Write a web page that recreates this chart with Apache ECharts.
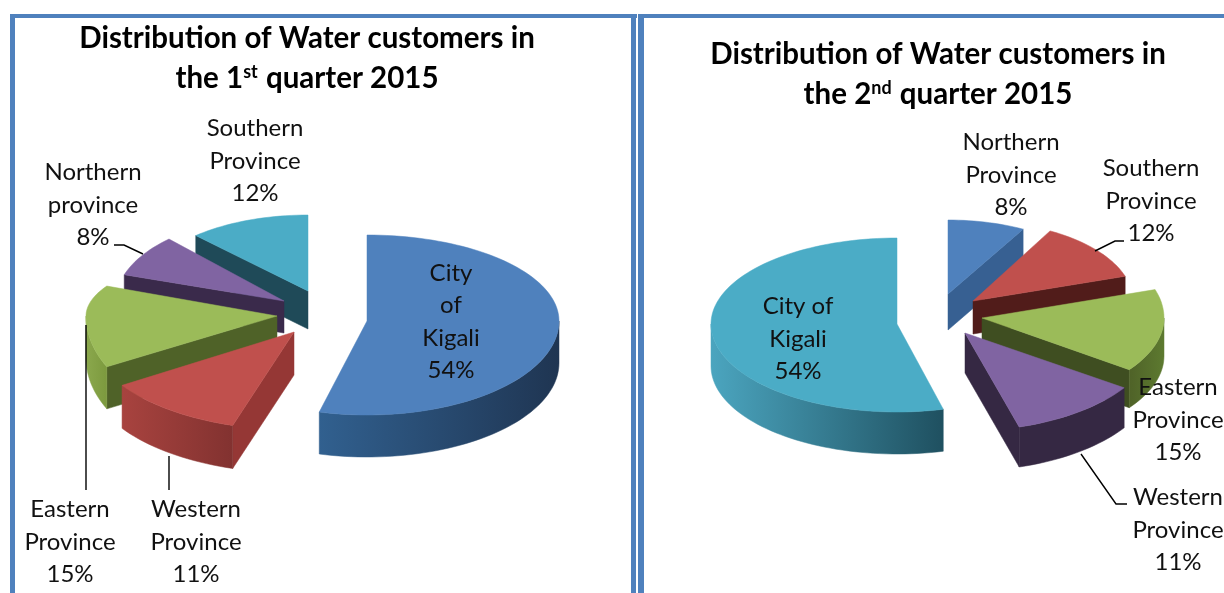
<!DOCTYPE html>
<html>
<head>
<meta charset="utf-8">
<style>
  html, body { margin: 0; padding: 0; background: #fff; }
  #chart { width: 1224px; height: 593px; }
</style>
</head>
<body>
<div id="chart"></div>
<script src="https://cdn.jsdelivr.net/npm/echarts@6/dist/echarts.min.js"></script>
<script>
// values, clockwise from 12 o'clock
const namesQ1 = ['City\nof\nKigali', 'Western\nProvince', 'Eastern\nProvince', 'Northern\nprovince', 'Southern\nProvince'];
const valuesQ1 = [54, 11, 15, 8, 12];
const namesQ2 = ['Northern\nProvince', 'Southern\nProvince', 'Eastern\nProvince', 'Western\nProvince', 'City of\nKigali'];
const valuesQ2 = [8, 12, 15, 11, 54];

const FONT = 'Lato';
const BLUE = '#4F81BD';

// slice geometry: [apex x, apex y, rx, ry back, ry front, depth, view turn in degrees]
const sliceBoxQ1 = [
  [367, 321, 192, 86, 94, 42, 0],
  [294, 332, 205, 95, 98, 43, 3],
  [277, 316, 191, 66, 112, 42, 9],
  [284, 301, 168, 85, 85, 32, 0],
  [308, 291, 164, 76, 76, 38, 0]
];
const sliceBoxQ2 = [
  [948, 294, 156, 74, 74, 36, 0],
  [973, 301, 160, 80, 80, 33, 0],
  [982, 318, 182, 92, 88, 38, 0],
  [965, 333, 192, 90, 98, 40, -2],
  [897, 324, 186, 86, 88, 42, 0]
];
// back to front
const drawOrderQ1 = [4, 3, 2, 1, 0];
const drawOrderQ2 = [0, 1, 2, 3, 4];

// top colour, cut face colour, arc wall gradient
const stylesQ1 = [
  ['#4F81BD', '#2A4A70', ['#31608F', '#1F3552']],
  ['#C0504D', '#953735', ['#A8433F', '#823230']],
  ['#9BBB59', '#4F6228', ['#8BA84D', '#7C9A3E']],
  ['#8064A2', '#3A2A4B', ['#3A2A4B', '#3A2A4B']],
  ['#4BACC6', '#1F4A58', ['#1F4A58', '#1F4A58']]
];
const stylesQ2 = [
  ['#4F81BD', '#376092', ['#376092', '#376092']],
  ['#C0504D', '#511C1A', ['#511C1A', '#511C1A']],
  ['#9BBB59', '#3F4E21', ['#4F6228', '#5D7A30']],
  ['#8064A2', '#352843', ['#352843', '#352843']],
  ['#4BACC6', '#1F4A58', ['#4BA5BF', '#1F5060']]
];

// label centres
const labelPosQ1 = [[451, 322], [196, 542], [70, 542], [93, 205], [255, 161]];
const labelPosQ2 = [[1011, 175], [1151, 201], [1178, 420], [1178, 530], [798, 339]];
const leadersQ1 = [
  [[114, 245], [124, 245], [143, 254]],
  [[86, 325], [86, 490]],
  [[169, 456], [169, 490]]
];
const leadersQ2 = [
  [[1124, 241], [1115, 241], [1095, 251]],
  [[1081, 454], [1116, 504], [1127, 504]]
];

function sliceAngles(values) {
  const total = values.reduce((a, b) => a + b, 0);
  let acc = 0;
  return values.map(v => {
    const from = acc / total * 360;
    acc += v;
    return [from, acc / total * 360];
  });
}

function pointAt(box, deg) {
  const r = deg * Math.PI / 180;
  const c = Math.cos(r);
  return [box[0] + box[2] * Math.sin(r), box[1] - (c > 0 ? box[3] : box[4]) * c];
}

function arcPoints(box, from, to) {
  const pts = [];
  const steps = Math.max(2, Math.ceil((to - from) / 2));
  for (let i = 0; i <= steps; i++) pts.push(pointAt(box, from + (to - from) * i / steps));
  return pts;
}

function poly(points, fill) {
  return { type: 'polygon', shape: { points: points }, style: { fill: fill, stroke: fill, lineWidth: 0.5 } };
}

function cutFace(box, deg, fill) {
  const o = pointAt(box, deg);
  const d = box[5];
  return poly([[box[0], box[1]], o, [o[0], o[1] + d], [box[0], box[1] + d]], fill);
}

function pieSeries(values, boxes, styles, order) {
  const angles = sliceAngles(values);
  return {
    type: 'custom',
    coordinateSystem: 'none',
    silent: true,
    z: 2,
    data: order.map(i => [values[i], i]),
    renderItem: function (params, api) {
      const i = api.value(1);
      const box = boxes[i], st = styles[i];
      const from = angles[i][0] + box[6], to = angles[i][1] + box[6];
      const children = [];
      // a cut face only shows when it turns towards the viewer
      if (Math.sin(from * Math.PI / 180) < -0.001) children.push(cutFace(box, from, st[1]));
      if (Math.sin(to * Math.PI / 180) > 0.001) children.push(cutFace(box, to, st[1]));
      const a = Math.max(from, 90), b = Math.min(to, 270);
      if (b > a) {
        const upper = arcPoints(box, a, b);
        const lower = upper.map(p => [p[0], p[1] + box[5]]).reverse();
        children.push(poly(upper.concat(lower), new echarts.graphic.LinearGradient(0, 0, 1, 0, [
          { offset: 0, color: st[2][0] },
          { offset: 1, color: st[2][1] }
        ])));
      }
      children.push(poly([[box[0], box[1]]].concat(arcPoints(box, from, to)), st[0]));
      return { type: 'group', children: children };
    }
  };
}

function labelSeries(names, values, positions, leaders) {
  return {
    type: 'custom',
    coordinateSystem: 'none',
    silent: true,
    z: 5,
    data: values.map((v, i) => [v, i]),
    renderItem: function (params, api) {
      const i = api.value(1);
      const children = [{
        type: 'text',
        x: positions[i][0],
        y: positions[i][1],
        style: {
          text: names[i] + '\n' + api.value(0) + '%',
          font: '24px ' + FONT,
          lineHeight: 32.5,
          fill: '#111',
          align: 'center',
          verticalAlign: 'middle'
        }
      }];
      if (i === 0) {
        leaders.forEach(l => children.push({
          type: 'polyline',
          shape: { points: l },
          style: { fill: null, stroke: '#000', lineWidth: 1.4 }
        }));
      }
      return { type: 'group', children: children };
    }
  };
}

function titleRich(nth, sup) {
  return {
    text: '{b|Distribution of Water customers in}\n{b|the ' + nth + '}{s|' + sup + '}{b| quarter 2015}',
    textAlign: 'center',
    textStyle: {
      rich: {
        b: { fontFamily: FONT, fontWeight: 'bold', fontSize: 29.5, color: '#000', lineHeight: 40 },
        s: { fontFamily: FONT, fontWeight: 'bold', fontSize: 18, color: '#000', lineHeight: 40, padding: [0, 1, 12, 0] }
      }
    }
  };
}

const frame = [
  [10, 14, 627, 4], [10, 14, 5, 579], [631, 14, 5, 579],
  [638, 14, 586, 4], [638, 14, 6, 579]
].map(r => ({
  type: 'rect',
  shape: { x: r[0], y: r[1], width: r[2], height: r[3] },
  style: { fill: BLUE },
  silent: true
}));

const chart = echarts.init(document.getElementById('chart'), null, { renderer: 'canvas' });
chart.setOption({
  animation: false,
  backgroundColor: '#fff',
  title: [
    Object.assign(titleRich('1', 'st'), { left: 302, top: 13 }),
    Object.assign(titleRich('2', 'nd'), { left: 933, top: 29 })
  ],
  graphic: frame,
  series: [
    pieSeries(valuesQ1, sliceBoxQ1, stylesQ1, drawOrderQ1),
    pieSeries(valuesQ2, sliceBoxQ2, stylesQ2, drawOrderQ2),
    labelSeries(namesQ1, valuesQ1, labelPosQ1, leadersQ1),
    labelSeries(namesQ2, valuesQ2, labelPosQ2, leadersQ2)
  ]
});
</script>
</body>
</html>
